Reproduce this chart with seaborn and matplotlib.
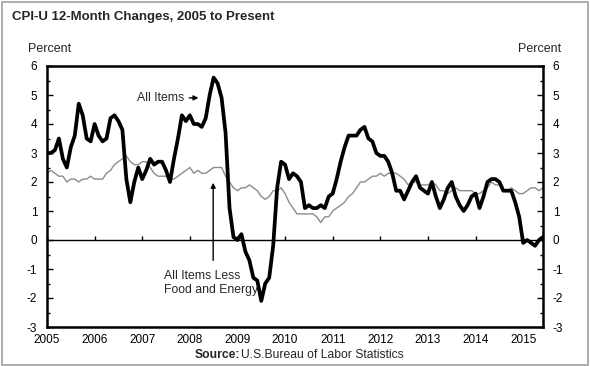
import numpy as np
import pandas as pd
import matplotlib
matplotlib.use("Agg")
import matplotlib.pyplot as plt
from matplotlib.ticker import MultipleLocator
import seaborn as sns

# 12-month percent changes, monthly, Jan 2005 - Jun 2015
all_items = [
    3.0, 3.0, 3.1, 3.5, 2.8, 2.5, 3.2, 3.6, 4.7, 4.3, 3.5, 3.4,
    4.0, 3.6, 3.4, 3.5, 4.2, 4.3, 4.1, 3.8, 2.1, 1.3, 2.0, 2.5,
    2.1, 2.4, 2.8, 2.6, 2.7, 2.7, 2.4, 2.0, 2.8, 3.5, 4.3, 4.1,
    4.3, 4.0, 4.0, 3.9, 4.2, 5.0, 5.6, 5.4, 4.9, 3.7, 1.1, 0.1,
    0.0, 0.2, -0.4, -0.7, -1.3, -1.4, -2.1, -1.5, -1.3, -0.2, 1.8, 2.7,
    2.6, 2.1, 2.3, 2.2, 2.0, 1.1, 1.2, 1.1, 1.1, 1.2, 1.1, 1.5,
    1.6, 2.1, 2.7, 3.2, 3.6, 3.6, 3.6, 3.8, 3.9, 3.5, 3.4, 3.0,
    2.9, 2.9, 2.7, 2.3, 1.7, 1.7, 1.4, 1.7, 2.0, 2.2, 1.8, 1.7,
    1.6, 2.0, 1.5, 1.1, 1.4, 1.8, 2.0, 1.5, 1.2, 1.0, 1.2, 1.5,
    1.6, 1.1, 1.5, 2.0, 2.1, 2.1, 2.0, 1.7, 1.7, 1.7, 1.3, 0.8,
    -0.1, 0.0, -0.1, -0.2, 0.0, 0.1,
]
core = [
    2.3, 2.4, 2.3, 2.2, 2.2, 2.0, 2.1, 2.1, 2.0, 2.1, 2.1, 2.2,
    2.1, 2.1, 2.1, 2.3, 2.4, 2.6, 2.7, 2.8, 2.9, 2.7, 2.6, 2.6,
    2.7, 2.7, 2.5, 2.3, 2.2, 2.2, 2.2, 2.1, 2.1, 2.2, 2.3, 2.4,
    2.5, 2.3, 2.4, 2.3, 2.3, 2.4, 2.5, 2.5, 2.5, 2.2, 2.0, 1.8,
    1.7, 1.8, 1.8, 1.9, 1.8, 1.7, 1.5, 1.4, 1.5, 1.7, 1.7, 1.8,
    1.6, 1.3, 1.1, 0.9, 0.9, 0.9, 0.9, 0.9, 0.8, 0.6, 0.8, 0.8,
    1.0, 1.1, 1.2, 1.3, 1.5, 1.6, 1.8, 2.0, 2.0, 2.1, 2.2, 2.2,
    2.3, 2.2, 2.3, 2.3, 2.3, 2.2, 2.1, 1.9, 2.0, 2.0, 1.9, 1.9,
    1.9, 2.0, 1.9, 1.7, 1.7, 1.6, 1.7, 1.8, 1.7, 1.7, 1.7, 1.7,
    1.6, 1.6, 1.7, 1.8, 2.0, 1.9, 1.9, 1.7, 1.7, 1.8, 1.7, 1.6,
    1.6, 1.7, 1.8, 1.8, 1.7, 1.8,
]
year_labels = [str(y) for y in range(2005, 2016)]
y_ticks = list(range(-3, 7))

t = 2005 + np.arange(len(all_items)) / 12.0
df = pd.DataFrame({"t": t, "all": all_items, "core": core})

sns.set_theme(style="white")
plt.rcParams["font.family"] = ["Liberation Sans", "DejaVu Sans"]
plt.rcParams["axes.unicode_minus"] = False

fig = plt.figure(figsize=(5.9, 3.66), dpi=100)
ax = fig.add_axes([47 / 590, 1 - 327 / 366, (543 - 47) / 590, (327 - 66) / 366])

sns.lineplot(data=df, x="t", y="core", ax=ax, color="#8c8c8c", linewidth=1.0)
sns.lineplot(data=df, x="t", y="all", ax=ax, color="black", linewidth=2.7)

ax.set_xlim(2005, 2005 + (len(all_items) - 1) / 12.0)
ax.set_ylim(-3, 6)
ax.set_xlabel("")
ax.set_ylabel("")

for s in ax.spines.values():
    s.set_visible(True)
    s.set_color("black")
    s.set_linewidth(1.8)

ax.set_xticks(range(2005, 2016))
ax.set_xticklabels(year_labels)
ax.tick_params(axis="x", length=0, labelsize=8.5, pad=5, colors="black")
ax.set_yticks(y_ticks)
ax.yaxis.set_minor_locator(MultipleLocator(0.5))
ax.tick_params(axis="y", which="both", direction="in", left=True, right=True,
               labelleft=True, labelright=True, labelsize=8.5, colors="black")
ax.tick_params(axis="y", which="major", length=4, width=1, pad=7)
ax.tick_params(axis="y", which="minor", length=2.5, width=1)

# zero line with year ticks
sec = ax.secondary_xaxis(1 / 3)
sec.set_xticks(range(2005, 2016))
sec.tick_params(axis="x", direction="in", length=3, width=1, labelbottom=False,
                labeltop=False, colors="black")
sec.spines["bottom"].set_linewidth(1.0)
sec.spines["bottom"].set_color("black")
for k in ("top", "left", "right"):
    if k in sec.spines:
        sec.spines[k].set_visible(False)

# annotations
ax.annotate("", xy=(2008.24, 4.9), xytext=(2007.93, 4.9),
            arrowprops=dict(arrowstyle="-|>", color="black", lw=1.0, mutation_scale=7))
ax.text(2007.89, 4.9, "All Items", ha="right", va="center", fontsize=8.8)
ax.annotate("", xy=(2008.49, 2.07), xytext=(2008.49, -0.8),
            arrowprops=dict(arrowstyle="-|>", color="black", lw=1.0, mutation_scale=7))
ax.text(2007.46, -1.48, "All Items Less\nFood and Energy", ha="left", va="center",
        fontsize=8.8, linespacing=1.25)

# titles and labels
fig.text(12 / 590, 1 - 17 / 366, "CPI-U 12-Month Changes, 2005 to Present",
         fontsize=9.5, fontweight="bold", ha="left", va="center")
fig.text(28 / 590, 1 - 49 / 366, "Percent", fontsize=9, ha="left", va="center")
fig.text(561 / 590, 1 - 49 / 366, "Percent", fontsize=9, ha="right", va="center")
fig.text(195 / 590, 1 - 355 / 366, "Source:", fontsize=8.7, fontweight="bold",
         ha="left", va="center")
fig.text(241 / 590, 1 - 355 / 366, "U.S.Bureau of Labor Statistics", fontsize=8.7,
         ha="left", va="center")

# figure border
border = plt.Rectangle((0.004, 0.004), 0.992, 0.99, transform=fig.transFigure,
                       fill=False, edgecolor="#a0a0a0", linewidth=1.2)
fig.patches.append(border)

fig.savefig("out.png", dpi=100)
